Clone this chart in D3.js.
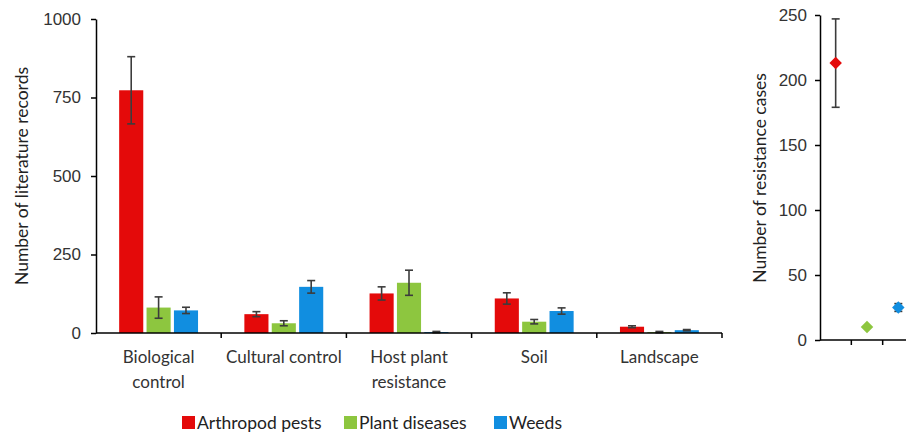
<!DOCTYPE html>
<html>
<head>
<meta charset="utf-8">
<script src="https://cdn.jsdelivr.net/npm/d3@7"></script>
<style>
  body { margin: 0; background: #fff; }
  svg { font-family: Lato, "Open Sans", sans-serif; }
  .axis path, .axis line { stroke: #000; stroke-width: 1.5; }
  .axis text { font-size: 17px; fill: #333; }
  .title { font-size: 17.5px; fill: #222; }
</style>
</head>
<body>
<div id="chart"></div>
<script>
// left panel: literature records per approach
const categories = ['Biological control', 'Cultural control', 'Host plant resistance', 'Soil', 'Landscape'];
const categoryLines = [['Biological', 'control'], ['Cultural control'], ['Host plant', 'resistance'], ['Soil'], ['Landscape']];
const seriesNames = ['Arthropod pests', 'Plant diseases', 'Weeds'];
const seriesColors = ['#e40a0a', '#8dc63f', '#118ee0'];

const arthropodValues = [773, 60, 126, 110, 20];
const arthropodErrors = [107, 8, 21, 18, 3];
const diseaseValues = [81, 31, 160, 36, 3];
const diseaseErrors = [34, 8, 40, 7, 2];
const weedValues = [72, 147, 3, 70, 9];
const weedErrors = [10, 20, 2, 10, 2];

const leftTicks = [0, 250, 500, 750, 1000];

// right panel: resistance cases
const resistanceValues = [213, 10, 25];
const resistanceErrors = [34, 0, 3];
const rightTicks = [0, 50, 100, 150, 200, 250];

let svg = d3.select('#chart').append('svg')
    .attr('width', 906)
    .attr('height', 433);

let rows = [];
categories.forEach(function(c, i) {
    rows.push({cat: c, s: 0, v: arthropodValues[i], e: arthropodErrors[i]});
    rows.push({cat: c, s: 1, v: diseaseValues[i], e: diseaseErrors[i]});
    rows.push({cat: c, s: 2, v: weedValues[i], e: weedErrors[i]});
});

let x0 = d3.scaleBand().domain(categories).range([96, 722]);
let x1 = d3.scaleBand().domain([0, 1, 2])
    .range([x0.bandwidth() * 0.185, x0.bandwidth() * 0.815])
    .paddingInner(0.12);
let y = d3.scaleLinear().domain([0, 1000]).range([333, 19]);

// y axis
svg.append('g')
    .attr('class', 'axis')
    .attr('transform', 'translate(96,0)')
    .call(d3.axisLeft(y).tickValues(leftTicks).tickFormat(d3.format('d'))
        .tickSize(5).tickPadding(10).tickSizeOuter(0));

// bars
svg.append('g').selectAll('rect')
    .data(rows)
    .join('rect')
    .attr('x', function(d) { return x0(d.cat) + x1(d.s); })
    .attr('y', function(d) { return y(d.v); })
    .attr('width', x1.bandwidth())
    .attr('height', function(d) { return y(0) - y(d.v); })
    .attr('fill', function(d) { return seriesColors[d.s]; });

// error bars
let eb = svg.append('g').attr('stroke', '#3c3c3c').attr('stroke-width', 1.6);
rows.forEach(function(d) {
    let cx = x0(d.cat) + x1(d.s) + x1.bandwidth() / 2;
    let lo = y(Math.max(0, d.v - d.e)), hi = y(d.v + d.e);
    eb.append('line').attr('x1', cx).attr('x2', cx).attr('y1', lo).attr('y2', hi);
    eb.append('line').attr('x1', cx - 4).attr('x2', cx + 4).attr('y1', lo).attr('y2', lo);
    eb.append('line').attr('x1', cx - 4).attr('x2', cx + 4).attr('y1', hi).attr('y2', hi);
});

// x axis with ticks between categories
let xAxis = svg.append('g').attr('class', 'axis');
xAxis.append('line')
    .attr('x1', 96).attr('x2', 722)
    .attr('y1', y(0)).attr('y2', y(0));
categories.forEach(function(c) {
    let xr = x0(c) + x0.bandwidth();
    xAxis.append('line')
        .attr('x1', xr).attr('x2', xr)
        .attr('y1', y(0)).attr('y2', y(0) + 5);
});
categories.forEach(function(c, i) {
    let t = xAxis.append('text')
        .attr('text-anchor', 'middle')
        .attr('x', x0(c) + x0.bandwidth() / 2)
        .attr('y', 363);
    categoryLines[i].forEach(function(line, j) {
        t.append('tspan')
            .attr('x', x0(c) + x0.bandwidth() / 2)
            .attr('dy', j === 0 ? 0 : 25)
            .text(line);
    });
});

svg.append('text')
    .attr('class', 'title')
    .attr('text-anchor', 'middle')
    .attr('transform', 'translate(28,176) rotate(-90)')
    .text('Number of literature records');

// legend
let legendX = [182, 344, 494];
seriesNames.forEach(function(name, i) {
    svg.append('rect')
        .attr('x', legendX[i]).attr('y', 416)
        .attr('width', 13).attr('height', 13)
        .attr('fill', seriesColors[i]);
    svg.append('text')
        .attr('class', 'title')
        .attr('x', legendX[i] + 15).attr('y', 429)
        .text(name);
});

// right panel
let x2 = d3.scaleBand().domain(seriesNames).range([820, 914]);
let y2 = d3.scaleLinear().domain([0, 250]).range([340, 15]);

svg.append('g')
    .attr('class', 'axis')
    .attr('transform', 'translate(820,0)')
    .call(d3.axisLeft(y2).tickValues(rightTicks).tickFormat(d3.format('d'))
        .tickSize(5).tickPadding(8).tickSizeOuter(0));

let xAxis2 = svg.append('g').attr('class', 'axis');
xAxis2.append('line')
    .attr('x1', 820).attr('x2', 914)
    .attr('y1', y2(0)).attr('y2', y2(0));
seriesNames.forEach(function(s) {
    let xr = x2(s) + x2.bandwidth();
    xAxis2.append('line')
        .attr('x1', xr).attr('x2', xr)
        .attr('y1', y2(0)).attr('y2', y2(0) + 5);
});

let eb2 = svg.append('g').attr('stroke', '#3c3c3c').attr('stroke-width', 1.6);
seriesNames.forEach(function(s, i) {
    if (resistanceErrors[i] <= 0) return;
    let cx = x2(s) + x2.bandwidth() / 2;
    let lo = y2(resistanceValues[i] - resistanceErrors[i]);
    let hi = y2(resistanceValues[i] + resistanceErrors[i]);
    eb2.append('line').attr('x1', cx).attr('x2', cx).attr('y1', lo).attr('y2', hi);
    eb2.append('line').attr('x1', cx - 4).attr('x2', cx + 4).attr('y1', lo).attr('y2', lo);
    eb2.append('line').attr('x1', cx - 4).attr('x2', cx + 4).attr('y1', hi).attr('y2', hi);
});

// diamonds: squares turned 45 degrees
svg.append('g').selectAll('path')
    .data(resistanceValues)
    .join('path')
    .attr('d', d3.symbol().type(d3.symbolSquare).size(78))
    .attr('transform', function(d, i) {
        return 'translate(' + (x2(seriesNames[i]) + x2.bandwidth() / 2) + ',' + y2(d) + ') rotate(45)';
    })
    .attr('fill', function(d, i) { return seriesColors[i]; });

svg.append('text')
    .attr('class', 'title')
    .attr('text-anchor', 'middle')
    .attr('transform', 'translate(766,178) rotate(-90)')
    .text('Number of resistance cases');
</script>
</body>
</html>
